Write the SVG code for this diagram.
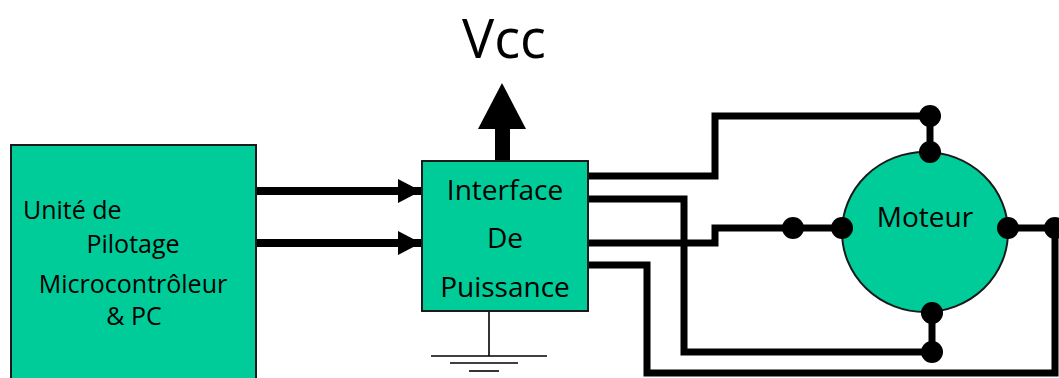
<svg xmlns="http://www.w3.org/2000/svg" width="1059" height="378" viewBox="0 0 1059 378">
<style>
.box{fill:#00cc99;stroke:#1a1a1a;stroke-width:2}
.t{font-family:"Open Sans","Liberation Sans",sans-serif;fill:#000}
.wire{fill:none;stroke:#000;stroke-width:7;stroke-linejoin:miter}
.arr{fill:none;stroke:#000;stroke-width:8}
.gnd{fill:none;stroke:#000;stroke-width:1.6}
.dot{fill:#000}
</style>
<defs>
<marker id="ah" markerUnits="userSpaceOnUse" markerWidth="24" markerHeight="24" refX="23" refY="12" orient="auto">
<path d="M0,0 L23,12 L0,24 Z" fill="#000"/>
</marker>
</defs>
<rect width="1059" height="378" fill="#fff"/>
<g id="connectors">
<line class="arr" x1="256" y1="191" x2="421" y2="191" marker-end="url(#ah)"/>
<line class="arr" x1="256" y1="243" x2="421" y2="243" marker-end="url(#ah)"/>
<rect x="495" y="126" width="15" height="36" fill="#000"/>
<polygon points="478,129 526,129 502,83" fill="#000"/>
<polyline class="wire" points="588,176 715,176 715,116 930,116"/>
<polyline class="wire" points="588,199 684,199 684,352 932,352"/>
<polyline class="wire" points="588,243 715,243 715,228 842,228"/>
<polyline class="wire" points="588,265 647,265 647,373 1055,373 1055,228 1008,228"/>
<line class="wire" x1="930" y1="116" x2="930" y2="152"/>
<line class="wire" x1="932" y1="313" x2="932" y2="352"/>
<line class="gnd" x1="489" y1="311" x2="489" y2="356"/>
<line class="gnd" x1="431" y1="356" x2="547" y2="356"/>
<line class="gnd" x1="450" y1="363" x2="518" y2="363"/>
<line class="gnd" x1="469" y1="371" x2="499" y2="371"/>
</g>
<g id="vcc">
<text class="t" x="504" y="58" font-size="54" text-anchor="middle">Vcc</text>
</g>
<g id="unite">
<rect class="box" x="11" y="145" width="245" height="240"/>
<text class="t" font-size="25"><tspan x="23" y="219">Unité de</tspan><tspan x="133" y="253" text-anchor="middle">Pilotage</tspan><tspan x="133" y="293" text-anchor="middle">Microcontrôleur</tspan><tspan x="134" y="325" text-anchor="middle">&amp; PC</tspan></text>
</g>
<g id="interface">
<rect class="box" x="422" y="161" width="166" height="150"/>
<text class="t" font-size="28" text-anchor="middle"><tspan x="505" y="200">Interface</tspan><tspan x="505" y="248">De</tspan><tspan x="505" y="297">Puissance</tspan></text>
</g>
<g id="moteur">
<ellipse class="box" cx="925" cy="232" rx="83" ry="80"/>
<text class="t" x="925" y="227" font-size="28" text-anchor="middle">Moteur</text>
</g>
<g id="dots">
<circle class="dot" cx="930" cy="116" r="11"/>
<circle class="dot" cx="930" cy="152" r="11"/>
<circle class="dot" cx="932" cy="313" r="11"/>
<circle class="dot" cx="932" cy="352" r="11"/>
<circle class="dot" cx="793" cy="228" r="11"/>
<circle class="dot" cx="842" cy="228" r="11"/>
<circle class="dot" cx="1008" cy="228" r="11"/>
<circle class="dot" cx="1055" cy="228" r="11"/>
</g>
</svg>
